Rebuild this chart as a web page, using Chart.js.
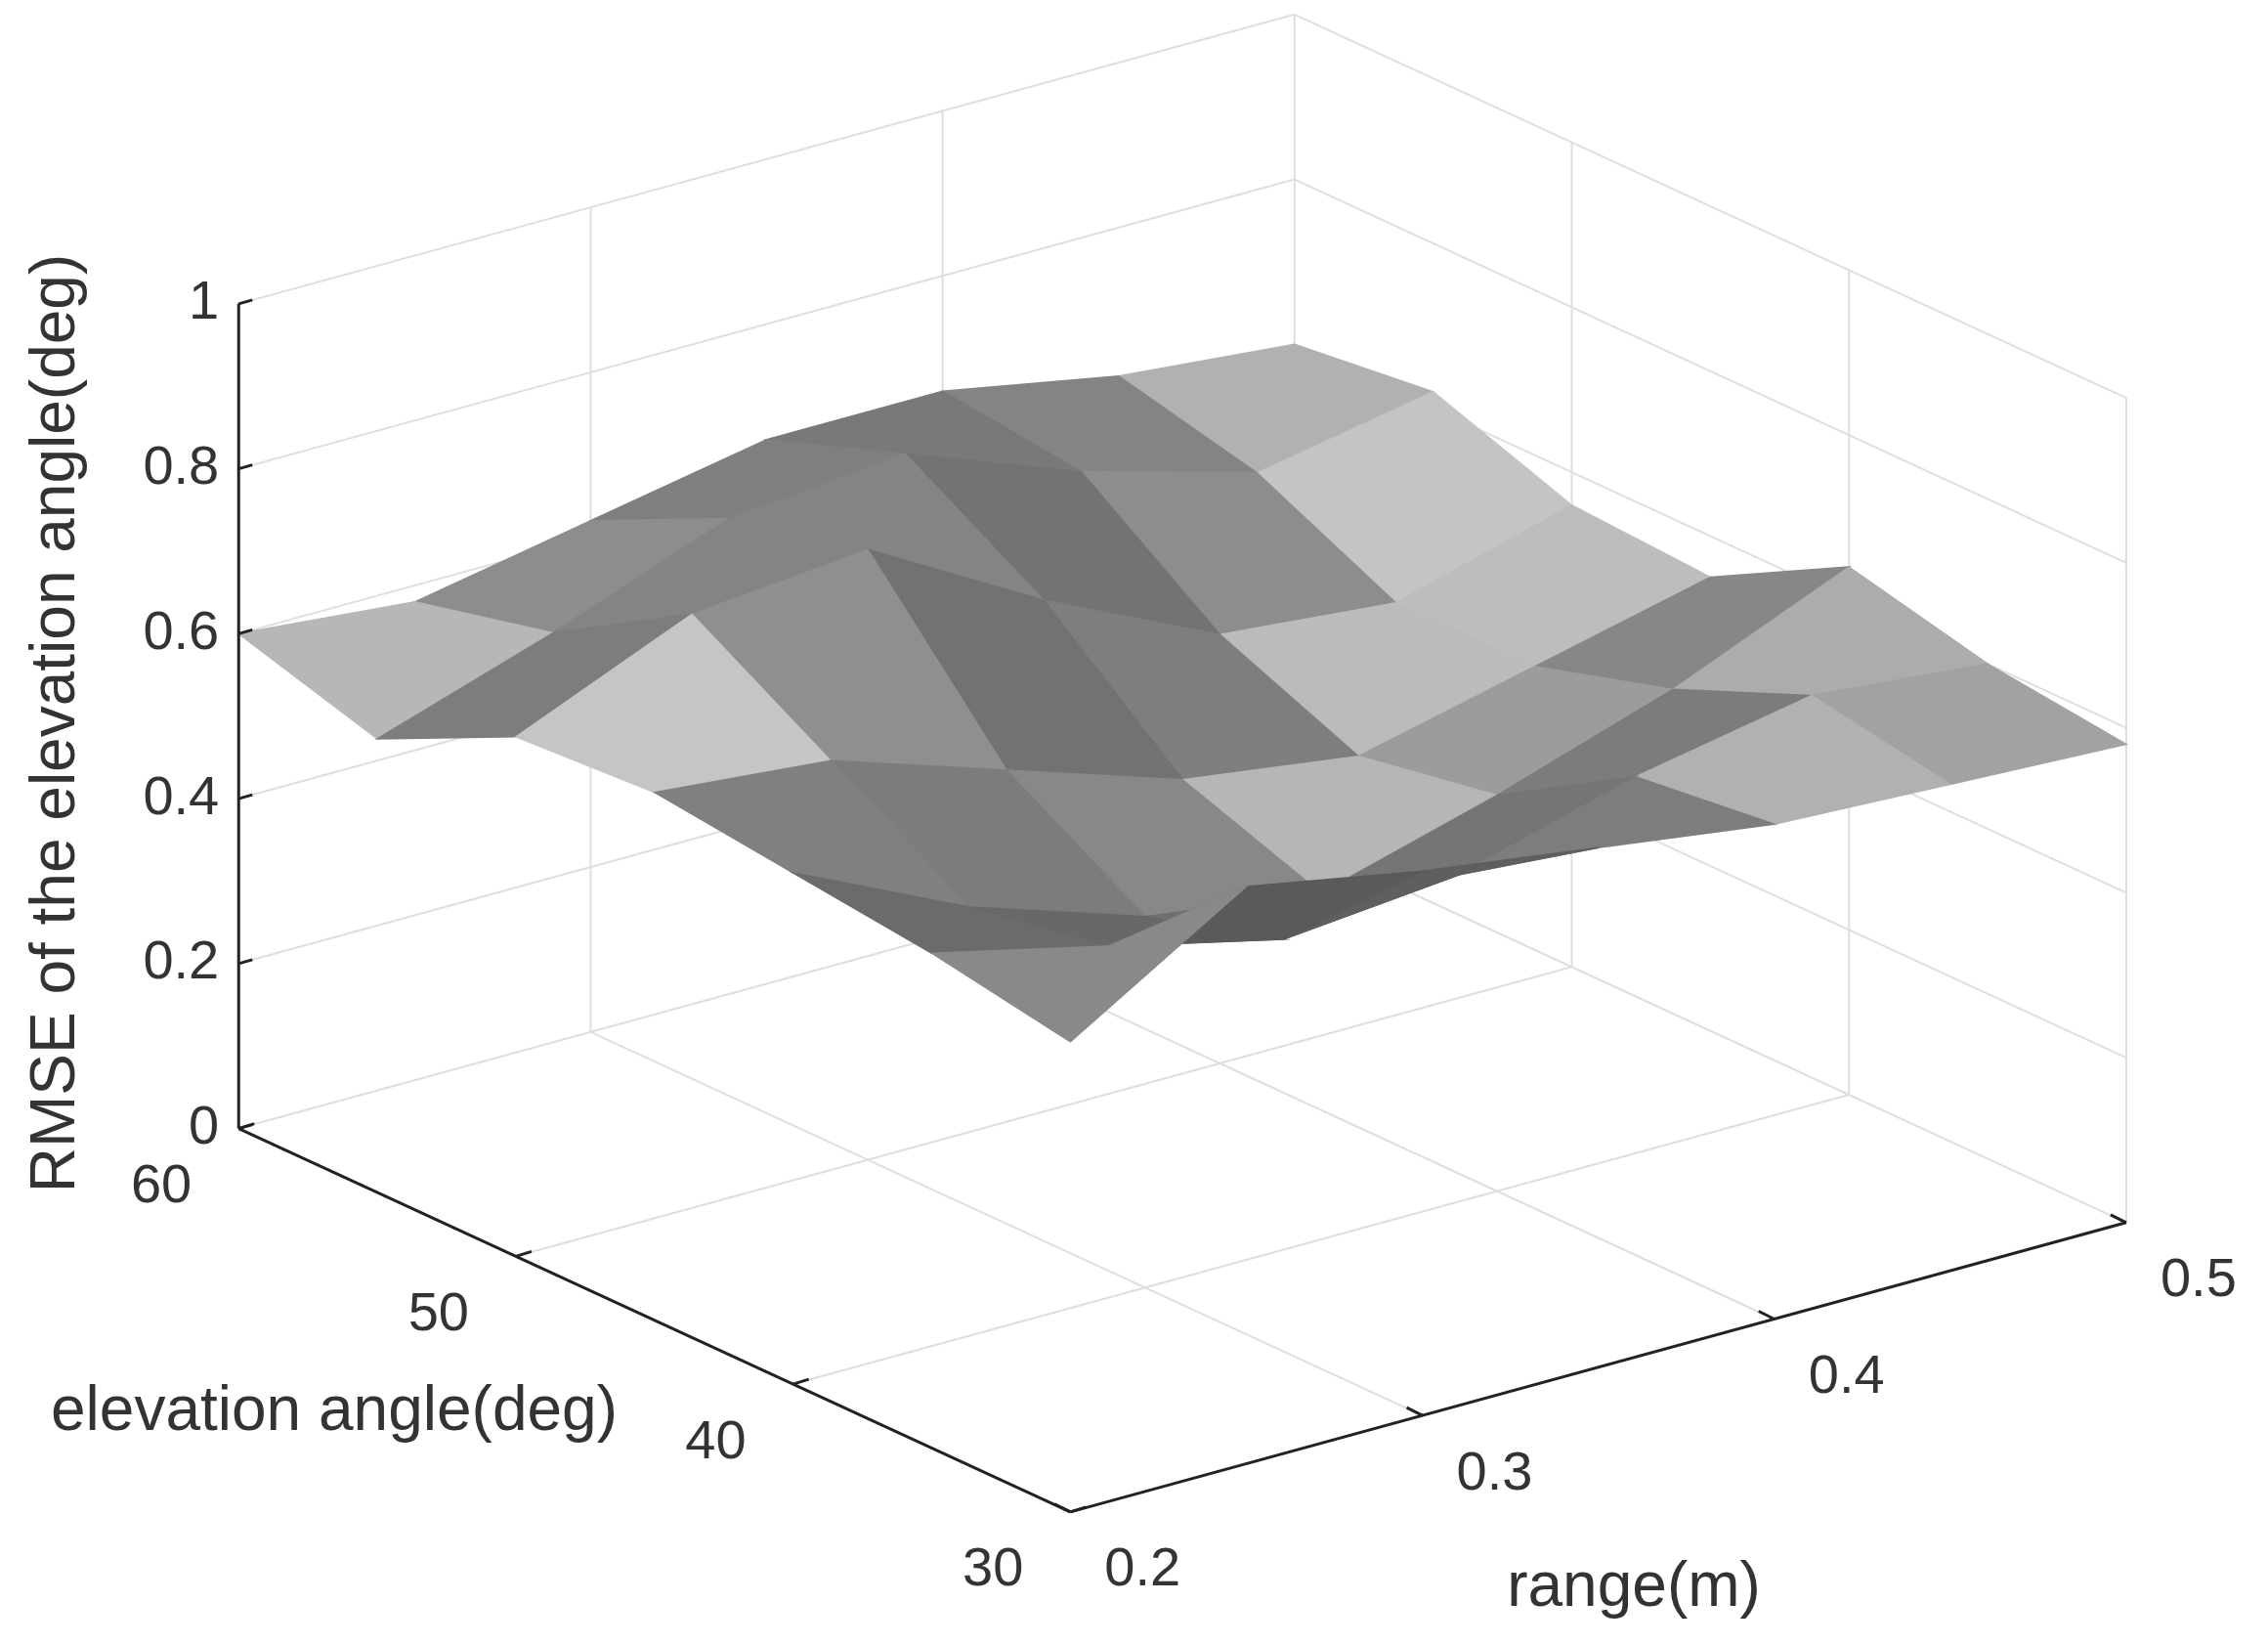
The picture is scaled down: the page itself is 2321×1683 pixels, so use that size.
<!DOCTYPE html>
<html>
<head>
<meta charset="utf-8">
<script src="https://cdn.jsdelivr.net/npm/chart.js@4.4.0/dist/chart.umd.min.js"></script>
<style>
  html, body { margin: 0; padding: 0; background: #fff; }
</style>
</head>
<body>
<canvas id="c" width="2321" height="1683"></canvas>
<script>
// axis values
const rangeVals = [0.2, 0.25, 0.3, 0.35, 0.4, 0.45, 0.5];
const elevVals = [60, 55, 50, 45, 40, 35, 30];
const rangeTicks = ['0.2', '0.3', '0.4', '0.5'];
const elevTicks = ['60', '50', '40', '30'];
const zTicks = ['0', '0.2', '0.4', '0.6', '0.8', '1'];

// RMSE rows, one per elevation (60 -> 30), columns by range (0.2 -> 0.5)
const rmse60 = [0.60, 0.58, 0.62, 0.66, 0.66, 0.62, 0.60];
const rmse55 = [0.55, 0.62, 0.70, 0.72, 0.64, 0.58, 0.62];
const rmse50 = [0.63, 0.72, 0.74, 0.62, 0.52, 0.50, 0.56];
const rmse45 = [0.64, 0.62, 0.55, 0.48, 0.45, 0.50, 0.55];
const rmse40 = [0.62, 0.52, 0.45, 0.42, 0.48, 0.55, 0.64];
const rmse35 = [0.60, 0.55, 0.50, 0.52, 0.58, 0.62, 0.60];
const rmse30 = [0.57, 0.70, 0.66, 0.63, 0.60, 0.59, 0.58];
const rmse = [rmse60, rmse55, rmse50, rmse45, rmse40, rmse35, rmse30];

// projection of (range, elevation, rmse) into the flat chart value space
const S = 2321 / 1568;
function proj(r, e, z) {
    const u = (r - 0.2) / 0.3, v = (60 - e) / 30;
    return [S * (165 + 730 * u + 575 * v), S * (780 - 200 * u + 265 * v - 570 * z)];
}

const surfacePlugin = {
    id: 'surface',
    afterDatasetsDraw(chart) {
        const ctx = chart.ctx, sx = chart.scales.x, sy = chart.scales.y;
        const px = (r, e, z) => {
            const p = proj(r, e, z);
            return [sx.getPixelForValue(p[0]), sy.getPixelForValue(p[1])];
        };
        const line = (a, b, color, w) => {
            ctx.strokeStyle = color; ctx.lineWidth = w;
            ctx.beginPath(); ctx.moveTo(a[0], a[1]); ctx.lineTo(b[0], b[1]); ctx.stroke();
        };
        ctx.save();
        const grid = '#dedede';
        // back wall e=60 and right wall r=0.5
        for (let z = 0.2; z <= 1.001; z += 0.2) {
            line(px(0.2, 60, z), px(0.5, 60, z), grid, 2);
            line(px(0.5, 60, z), px(0.5, 30, z), grid, 2);
        }
        [0.3, 0.4, 0.5].forEach(r => line(px(r, 60, 0), px(r, 60, 1), grid, 2));
        [50, 40, 30].forEach(e => line(px(0.5, e, 0), px(0.5, e, 1), grid, 2));
        // floor
        [0.3, 0.4, 0.5].forEach(r => line(px(r, 60, 0), px(r, 30, 0), grid, 2));
        [60, 50, 40].forEach(e => line(px(0.2, e, 0), px(0.5, e, 0), grid, 2));

        // surface quads, painter's order back to front
        const quads = [];
        for (let i = 0; i < elevVals.length - 1; i++) {
            for (let j = 0; j < rangeVals.length - 1; j++) {
                const P = (a, b) => [rangeVals[b], elevVals[a], rmse[a][b]];
                quads.push([P(i, j), P(i, j + 1), P(i + 1, j + 1), P(i + 1, j)]);
            }
        }
        const key = q => q.reduce((s, p) => s + (p[0] - 0.2) / 0.3 - (60 - p[1]) / 30, 0);
        quads.sort((a, b) => key(b) - key(a));
        const L = [-0.45, 0.35, 0.82];
        quads.forEach(q => {
            const w = q.map(p => [(p[0] - 0.2) / 0.3, (60 - p[1]) / 30, p[2] * 1.6]);
            const a = [w[2][0] - w[0][0], w[2][1] - w[0][1], w[2][2] - w[0][2]];
            const b = [w[3][0] - w[1][0], w[3][1] - w[1][1], w[3][2] - w[1][2]];
            let n = [a[1] * b[2] - a[2] * b[1], a[2] * b[0] - a[0] * b[2], a[0] * b[1] - a[1] * b[0]];
            if (n[2] < 0) n = n.map(c => -c);
            const len = Math.hypot(n[0], n[1], n[2]);
            const d = Math.max(0, (n[0] * L[0] + n[1] * L[1] + n[2] * L[2]) / len);
            const g = Math.round(90 + 110 * d * d);
            const col = `rgb(${g},${g},${g})`;
            ctx.fillStyle = col; ctx.strokeStyle = col; ctx.lineWidth = 1.5;
            ctx.beginPath();
            q.forEach((p, k) => {
                const s = px(p[0], p[1], p[2]);
                k ? ctx.lineTo(s[0], s[1]) : ctx.moveTo(s[0], s[1]);
            });
            ctx.closePath(); ctx.fill(); ctx.stroke();
        });

        // black axes
        const k = '#222';
        line(px(0.2, 60, 0), px(0.2, 60, 1), k, 3);
        line(px(0.2, 60, 0), px(0.2, 30, 0), k, 3);
        line(px(0.2, 30, 0), px(0.5, 30, 0), k, 3);
        ctx.font = '56px "Liberation Sans", Arial, sans-serif';
        ctx.fillStyle = '#333';
        ctx.textAlign = 'right'; ctx.textBaseline = 'middle';
        zTicks.forEach(t => {
            const z = parseFloat(t), a = px(0.2, 60, z);
            line(a, [a[0] + 14, a[1] - 4], k, 3);
            ctx.fillText(t, a[0] - 20, a[1]);
        });
        elevTicks.forEach(t => {
            const e = parseFloat(t), a = px(0.2, e, 0);
            line(a, [a[0] + 16, a[1] - 5], k, 3);
            ctx.textAlign = 'right';
            ctx.fillText(t, a[0] - 48, a[1] + 60);
        });
        rangeTicks.forEach(t => {
            const r = parseFloat(t), a = px(r, 30, 0);
            line(a, [a[0] - 16, a[1] - 8], k, 3);
            ctx.textAlign = 'left';
            ctx.fillText(t, a[0] + 35, a[1] + 60);
        });
        ctx.font = '64px "Liberation Sans", Arial, sans-serif';
        ctx.textAlign = 'center';
        ctx.fillText('elevation angle(deg)', 342, 1445);
        ctx.fillText('range(m)', 1672, 1625);
        ctx.translate(58, 740); ctx.rotate(-Math.PI / 2);
        ctx.fillText('RMSE of the elevation angle(deg)', 0, 0);
        ctx.restore();
    }
};

new Chart(document.getElementById('c'), {
    type: 'scatter',
    data: { datasets: [{ data: [], pointRadius: 0 }] },
    options: {
        responsive: false,
        animation: false,
        devicePixelRatio: 1,
        layout: { padding: 0 },
        plugins: { legend: { display: false }, tooltip: { enabled: false } },
        scales: {
            x: { display: false, min: 0, max: 2321 },
            y: { display: false, min: 0, max: 1683, reverse: true }
        }
    },
    plugins: [surfacePlugin]
});
</script>
</body>
</html>
